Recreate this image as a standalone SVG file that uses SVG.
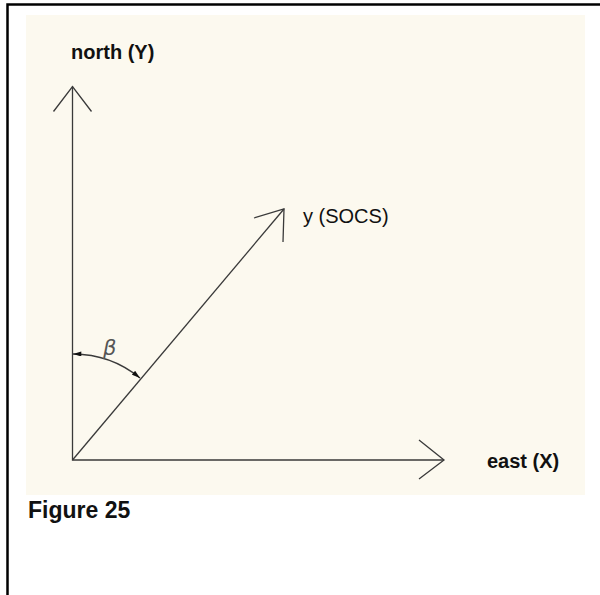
<svg xmlns="http://www.w3.org/2000/svg" width="600" height="595" viewBox="0 0 600 595">
<defs>
<style>
.ax{stroke:#3a3a3a;stroke-width:1.3;fill:none}
.lbl{font-family:"Liberation Sans",Arial,sans-serif;fill:#111}
.b{font-weight:bold}
</style>
<marker id="ah" viewBox="0 0 10 6" refX="10" refY="3" markerWidth="9" markerHeight="5" orient="auto-start-reverse" markerUnits="userSpaceOnUse">
<path d="M0,0 L10,3 L0,6 z" fill="#111"/>
</marker>
</defs>
<rect width="600" height="595" fill="#fff"/>
<rect x="26" y="15" width="559" height="480" fill="#fcf9ef"/>
<path d="M7.5,595 V4.5 H600" stroke="#000" stroke-width="2.5" fill="none"/>
<g id="connectors">
<path class="ax" d="M72.5,86.5 V460 H444"/>
<path class="ax" d="M53.5,111.5 L72.5,86.5 L91.5,111.5"/>
<path class="ax" d="M419,440 L444,460 L419,479"/>
<path class="ax" d="M72.5,460 L284,209"/>
<path class="ax" d="M254,218 L284,209 L283,242"/>
<path class="ax" d="M73,354 A106,106 0 0 1 140,378" marker-start="url(#ah)" marker-end="url(#ah)"/>
</g>
<g id="north"><text class="lbl b" x="71" y="59" font-size="20">north (Y)</text></g>
<g id="socs"><text class="lbl" x="303" y="223" font-size="20">y (SOCS)</text></g>
<g id="east"><text class="lbl b" x="487" y="468" font-size="20">east (X)</text></g>
<g id="beta"><text x="103" y="355" font-family="'DejaVu Sans',sans-serif" font-style="italic" font-size="21" fill="#555">β</text></g>
<g id="caption"><text class="lbl b" x="28" y="518" font-size="23">Figure 25</text></g>
</svg>
